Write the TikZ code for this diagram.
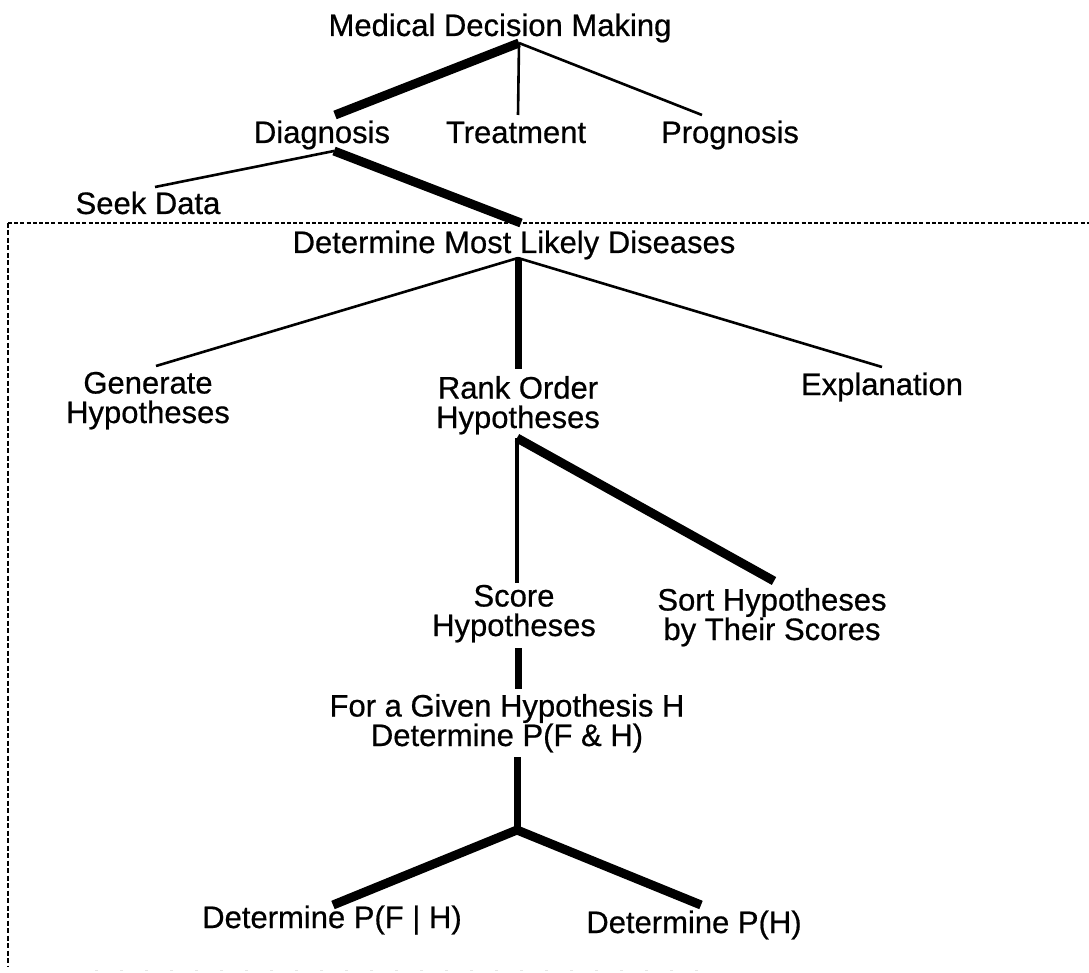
\documentclass[tikz,border=0pt]{standalone}
\usepackage{fontspec}
\setmainfont[FakeBold=0.6]{Liberation Sans}
\begin{document}
\begin{tikzpicture}[x=1pt,y=-1pt,
  lbl/.style={inner sep=0pt, anchor=base, align=center,
    font=\fontsize{31}{29.5}\selectfont},
  lightedge/.style={line width=2.6pt, line cap=butt},
  midedge/.style={line width=3.4pt, line cap=butt},
  heavyedge/.style={line width=9pt, line cap=butt},
  stemedge/.style={line width=7pt, line cap=butt},
  boxline/.style={dash pattern=on 4pt off 2.2pt, line width=2.6pt},
  boxside/.style={dash pattern=on 5pt off 2.5pt, line width=2.6pt}]
\useasboundingbox (0,0) rectangle (1089,973);

% labels (multi-line labels sit on the baseline of their last line)
\node[lbl] (mdm)   at (500,36)  {Medical Decision Making};
\node[lbl] (diag)  at (322,143) {Diagnosis};
\node[lbl] (treat) at (516,143) {Treatment};
\node[lbl] (prog)  at (730,143) {Prognosis};
\node[lbl] (seek)  at (148,214) {Seek Data};
\node[lbl] (dmld)  at (514,253) {Determine Most Likely Diseases};
\node[lbl] (gen)   at (148,423) {Generate\\Hypotheses};
\node[lbl] (rank)  at (518,428) {Rank Order\\Hypotheses};
\node[lbl] (expl)  at (882,395) {Explanation};
\node[lbl] (score) at (514,636) {Score\\Hypotheses};
\node[lbl] (sort)  at (772,640) {Sort Hypotheses\\by Their Scores};
\node[lbl] (given) at (507,746) {For a Given Hypothesis H\\Determine P(F \& H)};
\node[lbl] (pfh)   at (332,928) {Determine P(F | H)};
\node[lbl] (ph)    at (694,933) {Determine P(H)};

% branch points and line ends
\coordinate (j0) at (519,43);
\coordinate (eDiag) at (335,115);
\coordinate (eTreat) at (518,115);
\coordinate (eProg) at (702,115);
\coordinate (j1) at (334,151);
\coordinate (eSeek) at (155,187);
\coordinate (eDmld) at (521,223);
\coordinate (j2) at (518,258);
\coordinate (eGen) at (156,366);
\coordinate (eRank) at (518,369);
\coordinate (eExpl) at (882,367);
\coordinate (j3) at (517,438);
\coordinate (eScore) at (517,583);
\coordinate (eSort) at (774,581);
\coordinate (s1) at (518,648);
\coordinate (s2) at (518,689);
\coordinate (j4) at (517,757);
\coordinate (j5) at (517,830);
\coordinate (ePfh) at (333,905);
\coordinate (ePh) at (701,905);

% tree connectors
\draw[heavyedge] (j0) -- (eDiag);
\draw[lightedge] (j0) -- (eTreat);
\draw[lightedge] (j0) -- (eProg);
\draw[lightedge] (j1) -- (eSeek);
\draw[heavyedge] (j1) -- (eDmld);
\draw[lightedge] (j2) -- (eGen);
\draw[stemedge] (j2) -- (eRank);
\draw[lightedge] (j2) -- (eExpl);
\draw[midedge] (j3) -- (eScore);
\draw[heavyedge] (j3) -- (eSort);
\draw[stemedge] (s1) -- (s2);
\draw[stemedge] (j4) -- (j5);
\draw[heavyedge, line join=miter] (ePfh) -- (j5) -- (ePh);

% dotted frame
\coordinate (fTL) at (8,223);
\coordinate (fTR) at (1089,223);
\coordinate (fBL) at (8,967);
\draw[boxline] (fTL) -- (fTR);
\draw[boxside] (fTL) -- (fBL);
\coordinate (fB1) at (95,970);
\coordinate (fB2) at (700,970);
\draw[gray!20, dash pattern=on 3pt off 22pt, line width=1pt] (fB1) -- (fB2);
\end{tikzpicture}
\end{document}
